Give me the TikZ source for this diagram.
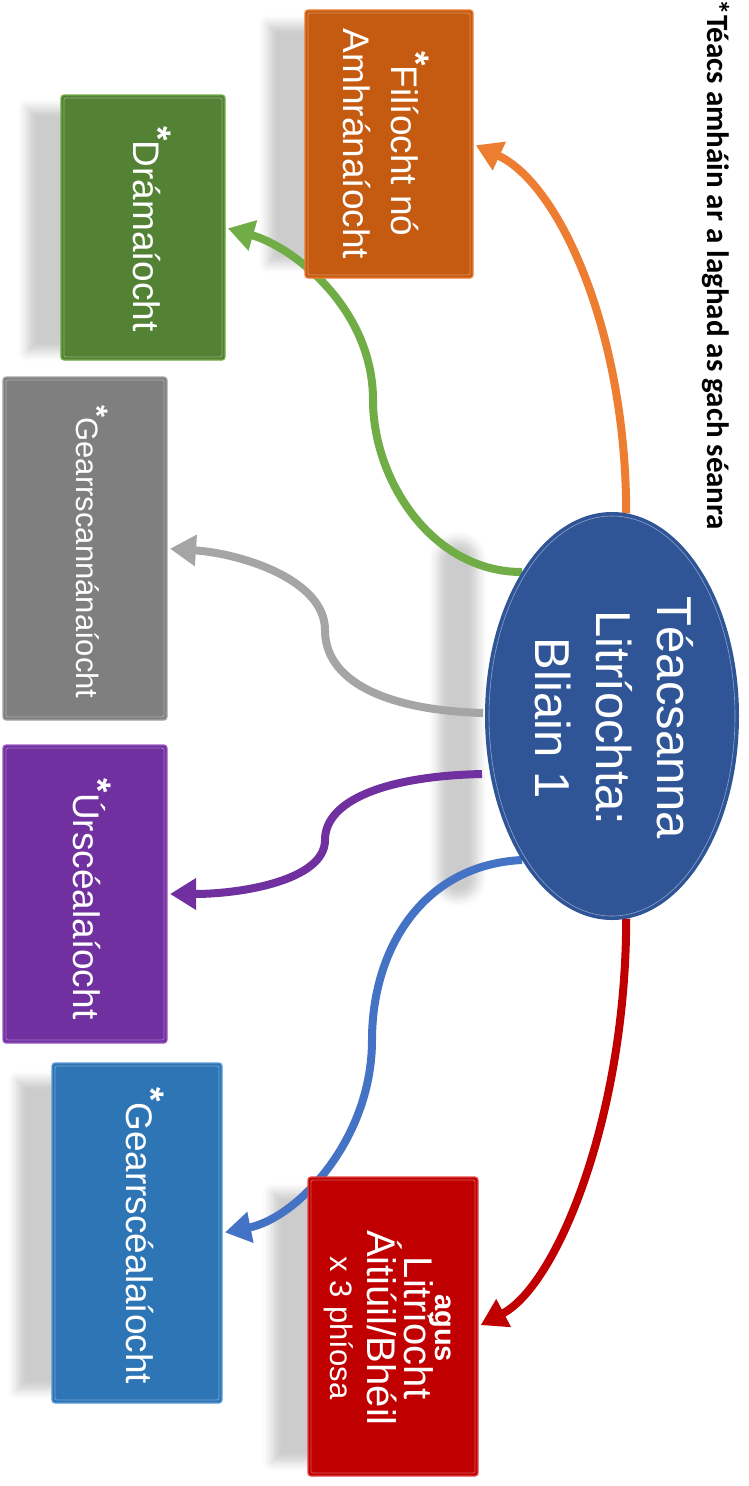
\documentclass[tikz,border=0pt]{standalone}
\usepackage{fontspec}
\setmainfont{Liberation Sans}
\newfontfamily\calib{Carlito}
\usetikzlibrary{arrows.meta,shapes.geometric,shadows.blur,calc}
\pgfdeclarelayer{shadowlayer}
\pgfdeclarelayer{linelayer}
\pgfsetlayers{shadowlayer,linelayer,main}
\definecolor{oFill}{HTML}{C55A11}\definecolor{oLine}{HTML}{ED7D31}
\definecolor{gFill}{HTML}{548235}\definecolor{gLine}{HTML}{70AD47}
\definecolor{yFill}{HTML}{7F7F7F}\definecolor{yLine}{HTML}{A5A5A5}
\definecolor{pFill}{HTML}{7030A0}\definecolor{pLine}{HTML}{7030A0}\definecolor{pEdge}{HTML}{9A5CC6}
\definecolor{bFill}{HTML}{2E75B6}\definecolor{bLine}{HTML}{4472C4}\definecolor{bEdge}{HTML}{5B9BD5}
\definecolor{rFill}{HTML}{C00000}\definecolor{rLine}{HTML}{C00000}\definecolor{rEdge}{HTML}{E04848}
\definecolor{eFill}{HTML}{2F5597}
\newcommand{\starmark}{\raisebox{0.3em}{\bfseries*}}
\begin{document}
\begin{tikzpicture}[x=1pt,y=-1pt,
  boxnode/.style={rectangle, rounded corners=3pt, line width=1.2pt, inner sep=0pt, outer sep=0pt},
  boxtext/.style={rotate=-90, text=white, align=center, inner sep=0pt},
  conn/.style={line width=8pt, -{Triangle[length=26pt,width=30pt]}, shorten >=3pt},
  softshadow/.style={blur shadow={shadow xshift=0pt,shadow yshift=0pt,shadow blur radius=9pt,shadow opacity=20}}
]
\useasboundingbox (0,0) rectangle (749,1486);

% boxes
\node[boxnode, fill=oFill, draw=oLine, minimum width=168pt, minimum height=268pt] (O) at (389,144) {};
\node[boxnode, fill=gFill, draw=gLine, minimum width=164pt, minimum height=265pt] (G) at (143,227.5) {};
\node[boxnode, fill=yFill, draw=yLine, minimum width=164pt, minimum height=343pt] (Y) at (85,548.5) {};
\node[boxnode, fill=pFill, draw=pEdge, minimum width=164pt, minimum height=298pt] (P) at (85,894) {};
\node[boxnode, fill=bFill, draw=bEdge, minimum width=170pt, minimum height=340pt] (B) at (137,1233) {};
\node[boxnode, fill=rFill, draw=rEdge, minimum width=170pt, minimum height=299pt] (R) at (393,1326.5) {};
\foreach \n in {O,G,Y,P,B,R}{
  \draw[white, opacity=.35, line width=.8pt, rounded corners=2pt]
    ($(\n.south west)+(3,-3)$) rectangle ($(\n.north east)+(-3,3)$);
}

% ellipse
\node[ellipse, fill=eFill, minimum width=254pt, minimum height=408pt, inner sep=0pt, outer sep=0pt] (E) at (612,716) {};
\node[ellipse, draw=white, draw opacity=.45, line width=.6pt, minimum width=246pt, minimum height=400pt, inner sep=0pt] (Ei) at (612,716) {};
\node[boxtext, font=\fontsize{49}{61}\selectfont] (Et) at (614,718) {Téacsanna\\Litríochta:\\Bliain 1};

% box texts
\node[boxtext, font=\fontsize{37}{48}\selectfont] (Ot) at (386,144) {\starmark Filíocht nó\\Amhránaíocht};
\node[boxtext, font=\fontsize{37}{45}\selectfont] (Gt) at (152,229) {\starmark Drámaíocht};
\node[boxtext, font=\fontsize{31}{40}\selectfont] (Yt) at (92,552) {\starmark Gearrscannánaíocht};
\node[boxtext, font=\fontsize{37}{45}\selectfont] (Pt) at (92,899) {\starmark Úrscéalaíocht};
\node[boxtext, font=\fontsize{37}{45}\selectfont] (Bt) at (145,1236) {\starmark Gearrscéalaíocht};
\node[boxtext, font=\fontsize{40}{37}\selectfont] (Rt) at (388,1328) {{\bfseries\fontsize{29}{37}\selectfont agus}\\[-6pt]Litríocht\\Áitiúil/Bhéil\\{\fontsize{31}{37}\selectfont x 3 phíosa}};

% footnote
\node[rotate=-90, inner sep=0pt, font=\calib\bfseries\fontsize{31}{36}\selectfont] (F) at (716,265) {*Téacs amháin ar a laghad as gach séanra};

% shadows
\begin{pgfonlayer}{shadowlayer}
\path[softshadow] (268,24) rectangle (322,264);
\path[softshadow] (27,108) rectangle (75,352);
\path[softshadow] (17,1080) rectangle (65,1390);
\path[softshadow] (272,1192) rectangle (322,1462);
\path[softshadow, rounded corners=20pt] (438,540) rectangle (478,898);
\end{pgfonlayer}

% connectors
\begin{pgfonlayer}{linelayer}
\draw[conn, oLine] (E.86) .. controls +(0,-180) and +(87,40) .. (O.east);
\draw[conn, gLine] (E.122) .. controls +(-90,0) and +(0,80) .. (373,400)
   .. controls +(0,-90) and +(70,20) .. (G.east);
\draw[conn, yLine] ($(E.west)+(-2,-3)$) .. controls +(-100,-3) and +(0,50) .. (325,630)
   .. controls +(0,-50) and +(75,5) .. (Y.east);
\draw[conn, pLine] ($(E.west)+(-3,58)$) .. controls +(-95,2) and +(0,-40) .. (325,840)
   .. controls +(0,40) and +(75,0) .. (P.east);
\draw[conn, bLine] (E.238) .. controls +(-100,5) and +(0,-90) .. (372,1040)
   .. controls +(0,100) and +(75,-15) .. (B.east);
\draw[conn, rLine] (E.274) .. controls +(0,195) and +(80,-42) .. (R.east);
\end{pgfonlayer}
\end{tikzpicture}
\end{document}
